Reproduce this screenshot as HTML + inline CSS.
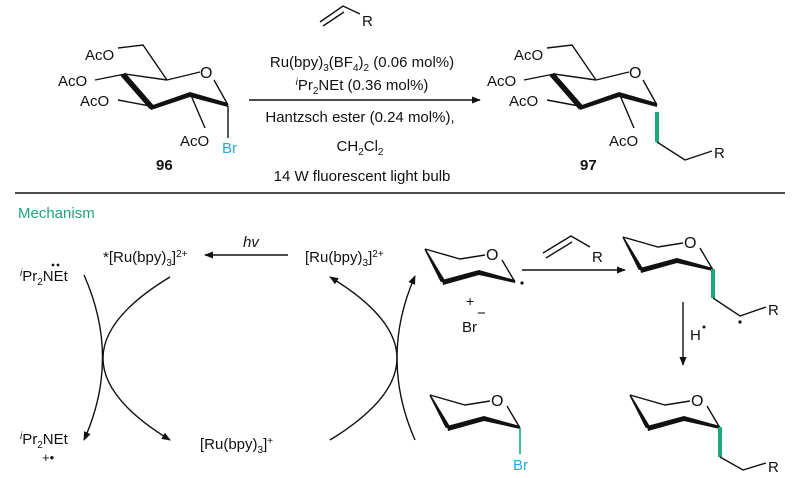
<!DOCTYPE html>
<html><head><meta charset="utf-8"><style>
html,body{margin:0;padding:0;background:#fff}
svg{display:block}
text{font-family:"Liberation Sans",Arial,sans-serif;font-size:15px;fill:#111}
.s{font-size:10px}
</style></head><body>
<svg width="800" height="478" viewBox="0 0 800 478" xmlns="http://www.w3.org/2000/svg">
<defs>
<marker id="ah" viewBox="0 0 10 10" refX="9" refY="5" markerWidth="9" markerHeight="9" orient="auto" markerUnits="userSpaceOnUse"><path d="M0,1 L10,5 L0,9 z" fill="#111"/></marker>
<g id="chair">
<path d="M-90,-33 L-55,-23 L-30,-27" stroke="#111" stroke-width="1.4" fill="none"/>
<path d="M-13,-22 L0,0" stroke="#111" stroke-width="1.4" fill="none"/>
<path d="M-73,-2 L-36,-12 L0,-2 L0,1 L-36,-7 L-72,3 z" fill="#111"/>
<path d="M-90,-33 L-74,-1 L-70,0 z" fill="#111" stroke="#111" stroke-width="1.5"/>
<text x="-29" y="-22" style="font-size:16px">O</text>
</g>
<g id="sugar">
<path d="M0,-7 L25,-10 L49,25" stroke="#111" stroke-width="1.4" fill="none"/>
<path d="M49,25 L82,17" stroke="#111" stroke-width="1.4" fill="none"/>
<path d="M96,25 L110,50" stroke="#111" stroke-width="1.4" fill="none"/>
<path d="M-23,25 L7,19 M0,45 L32,51 M72,38 L87,73" stroke="#111" stroke-width="1.4" fill="none"/>
<path d="M7,19 L34,50 L32,53 L4,21 z" fill="#111" stroke="#111" stroke-width="2"/>
<path d="M32,51 L72,37 L110,48 L110,52 L72,42 L33,55 z" fill="#111"/>
<path d="M7,19 L49,25" stroke="#111" stroke-width="1.4"/>
<text x="-33" y="5">AcO</text>
<text x="-60" y="31">AcO</text>
<text x="-38" y="51">AcO</text>
<text x="62" y="91">AcO</text>
<text x="82" y="23" style="font-size:16px">O</text>
</g>
</defs>

<use href="#sugar" transform="translate(118,55)"/>
<path d="M228,106 L228,138" stroke="#111" stroke-width="1.4"/>
<text x="222" y="153" style="fill:#29a8e0">Br</text>
<text x="156" y="170" style="font-weight:bold">96</text>

<path d="M320,22 L343,6 L360,14 M323,26 L344,12" stroke="#111" stroke-width="1.4" fill="none"/>
<text x="362" y="26">R</text>
<text x="362" y="67" text-anchor="middle">Ru(bpy)<tspan class="s" dy="4">3</tspan><tspan dy="-4">(BF</tspan><tspan class="s" dy="4">4</tspan><tspan dy="-4">)</tspan><tspan class="s" dy="4">2</tspan><tspan dy="-4"> (0.06 mol%)</tspan></text>
<text x="362" y="90" text-anchor="middle"><tspan class="s" dy="-5" font-style="italic">i</tspan><tspan dy="5">Pr</tspan><tspan class="s" dy="4">2</tspan><tspan dy="-4">NEt (0.36 mol%)</tspan></text>
<path d="M249,100 L480,100" stroke="#111" stroke-width="1.4" marker-end="url(#ah)"/>
<text x="360" y="122" text-anchor="middle">Hantzsch ester (0.24 mol%),</text>
<text x="360" y="151" text-anchor="middle">CH<tspan class="s" dy="4">2</tspan><tspan dy="-4">Cl</tspan><tspan class="s" dy="4">2</tspan></text>
<text x="362" y="181" text-anchor="middle">14 W fluorescent light bulb</text>

<use href="#sugar" transform="translate(547,55)"/>
<path d="M657,112 L657,142" stroke="#1aaa7a" stroke-width="4"/>
<path d="M657,142 L685,160 L712,151" stroke="#111" stroke-width="1.4" fill="none"/>
<text x="714" y="158">R</text>
<text x="580" y="170" style="font-weight:bold">97</text>

<path d="M15,193 L785,193" stroke="#111" stroke-width="1.4"/>
<text x="18" y="218" style="fill:#1aaa7a">Mechanism</text>

<text x="103" y="262">*[Ru(bpy)<tspan class="s" dy="4">3</tspan><tspan dy="-4">]</tspan><tspan class="s" dy="-5">2+</tspan></text>
<path d="M288,255 L205,255" stroke="#111" stroke-width="1.6" marker-end="url(#ah)"/>
<text x="243" y="247" font-style="italic">hv</text>
<text x="305" y="262">[Ru(bpy)<tspan class="s" dy="4">3</tspan><tspan dy="-4">]</tspan><tspan class="s" dy="-5">2+</tspan></text>
<text x="20" y="281"><tspan class="s" dy="-5" font-style="italic">i</tspan><tspan dy="5">Pr</tspan><tspan class="s" dy="4">2</tspan><tspan dy="-4">NEt</tspan></text>
<circle cx="53" cy="265" r="1.4" fill="#111"/><circle cx="58" cy="265" r="1.4" fill="#111"/>
<text x="20" y="444"><tspan class="s" dy="-5" font-style="italic">i</tspan><tspan dy="5">Pr</tspan><tspan class="s" dy="4">2</tspan><tspan dy="-4">NEt</tspan></text>
<text x="42" y="462" style="font-size:13px">+•</text>
<text x="200" y="449">[Ru(bpy)<tspan class="s" dy="4">3</tspan><tspan dy="-4">]</tspan><tspan class="s" dy="-5">+</tspan></text>

<path d="M84,275 Q121,358 84,440" stroke="#111" stroke-width="1.4" fill="none" marker-end="url(#ah)"/>
<path d="M170,277 Q36,358 170,440" stroke="#111" stroke-width="1.4" fill="none" marker-end="url(#ah)"/>
<path d="M330,440 Q464,358 330,277" stroke="#111" stroke-width="1.4" fill="none" marker-end="url(#ah)"/>
<path d="M415,440 Q379,358 415,276" stroke="#111" stroke-width="1.4" fill="none" marker-end="url(#ah)"/>

<use href="#chair" transform="translate(515,282)"/>
<circle cx="522" cy="283" r="1.6" fill="#111"/>
<text x="466" y="306" style="font-size:14px">+</text>
<text x="462" y="332">Br</text>
<text x="477" y="318">−</text>
<path d="M522,270 L625,270" stroke="#111" stroke-width="1.4" marker-end="url(#ah)"/>
<path d="M543,253 L571,236 L590,247 M546,258 L572,242" stroke="#111" stroke-width="1.4" fill="none"/>
<text x="592" y="262">R</text>

<use href="#chair" transform="translate(713,270)"/>
<path d="M713,269 L713,298" stroke="#1aaa7a" stroke-width="4"/>
<path d="M713,298 L740,316 L766,307" stroke="#111" stroke-width="1.4" fill="none"/>
<circle cx="740" cy="322" r="1.6" fill="#111"/>
<text x="768" y="315">R</text>
<path d="M683,302 L683,365" stroke="#111" stroke-width="1.4" marker-end="url(#ah)"/>
<text x="690" y="340">H</text>
<circle cx="704" cy="327" r="1.5" fill="#111"/>

<use href="#chair" transform="translate(520,428)"/>
<path d="M520,428 L520,454" stroke="#1aaa7a" stroke-width="1.6"/>
<text x="513" y="470" style="fill:#29a8e0">Br</text>

<use href="#chair" transform="translate(720,428)"/>
<path d="M720,427 L720,457" stroke="#1aaa7a" stroke-width="4"/>
<path d="M720,457 L743,470 L766,463" stroke="#111" stroke-width="1.4" fill="none"/>
<text x="768" y="472">R</text>
</svg>
</body></html>
